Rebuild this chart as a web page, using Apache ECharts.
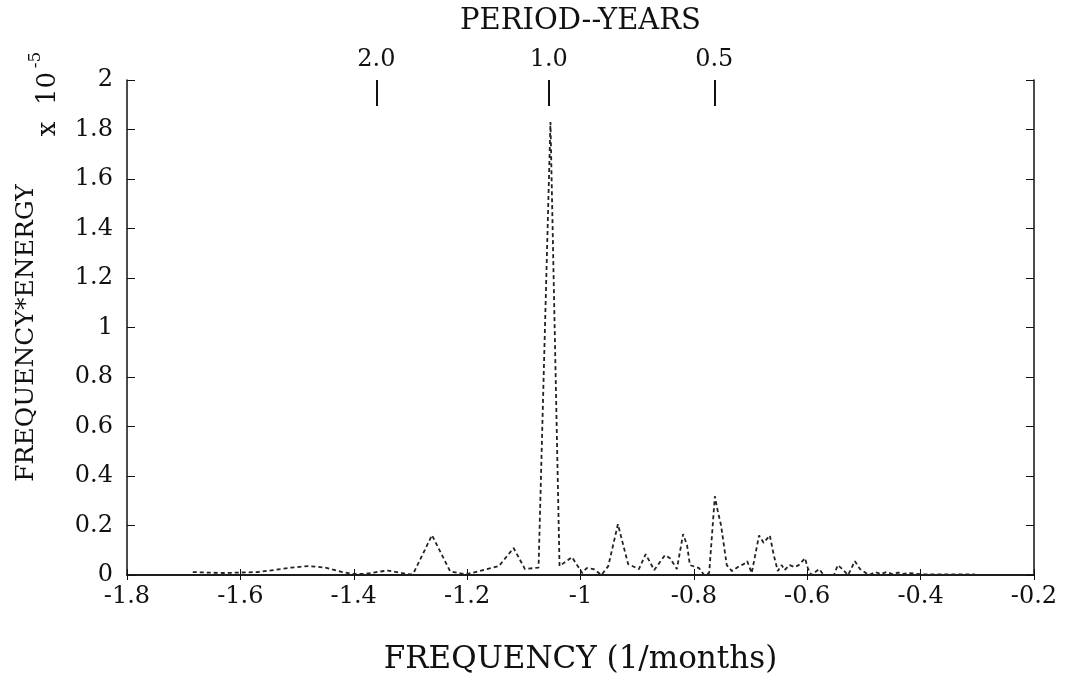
<!DOCTYPE html>
<html>
<head>
<meta charset="utf-8">
<title>Frequency * Energy spectrum</title>
<script src="https://cdn.jsdelivr.net/npm/echarts@6/dist/echarts.min.js"></script>
<style>
  html, body { margin: 0; padding: 0; background: #fff; }
  #chart { width: 1073px; height: 680px; }
</style>
</head>
<body>
<div id="chart"></div>
<script>
// log10 frequency (1/months) and frequency*energy (x 1e-5)
var freq = [
  -1.684, -1.66, -1.63, -1.60, -1.57, -1.54, -1.51, -1.48, -1.45, -1.42,
  -1.40, -1.38, -1.36, -1.34, -1.32, -1.30, -1.294, -1.262, -1.230, -1.209,
  -1.198, -1.180, -1.144, -1.118, -1.098, -1.074, -1.053, -1.037, -1.015, -0.997,
  -0.989, -0.977, -0.963, -0.951, -0.934, -0.916, -0.897, -0.885, -0.870, -0.851,
  -0.842, -0.830, -0.819, -0.812, -0.807, -0.791, -0.782, -0.773, -0.763, -0.758,
  -0.752, -0.742, -0.733, -0.720, -0.712, -0.706, -0.698, -0.685, -0.677, -0.666,
  -0.659, -0.652, -0.645, -0.640, -0.631, -0.622, -0.615, -0.604, -0.599, -0.593,
  -0.579, -0.571, -0.553, -0.546, -0.540, -0.528, -0.516, -0.507, -0.491, -0.48,
  -0.47, -0.46, -0.45, -0.44, -0.43, -0.42, -0.40, -0.38, -0.34, -0.304
];
var energy = [
  0.012, 0.010, 0.008, 0.010, 0.012, 0.020, 0.030, 0.036, 0.030, 0.012,
  0.004, 0.004, 0.012, 0.018, 0.010, 0.002, 0.010, 0.161, 0.015, 0.005,
  0.005, 0.015, 0.036, 0.109, 0.024, 0.030, 1.83, 0.036, 0.072, 0.008,
  0.028, 0.024, 0.0, 0.036, 0.205, 0.044, 0.024, 0.084, 0.020, 0.080,
  0.068, 0.024, 0.165, 0.120, 0.040, 0.028, 0.0, 0.008, 0.318, 0.26,
  0.20, 0.04, 0.016, 0.036, 0.044, 0.056, 0.008, 0.16, 0.13, 0.16,
  0.08, 0.016, 0.04, 0.02, 0.04, 0.032, 0.04, 0.068, 0.028, 0.0,
  0.024, 0.0, 0.0, 0.04, 0.028, 0.0, 0.056, 0.024, 0.0, 0.012,
  0.004, 0.012, 0.004, 0.010, 0.004, 0.008, 0.003, 0.002, 0.002, 0.002
];
// top axis: period in years, placed at log10 frequency
var periodTicks = [-1.36, -1.056, -0.764];
var periodLabels = ['2.0', '1.0', '0.5'];

var FONT = '"DejaVu Serif", "Liberation Serif", serif';
var INK = '#111';

var points = freq.map(function (f, i) { return [f, energy[i]]; });

function trimNum(v) { return String(+v.toFixed(1)); }

var chart = echarts.init(document.getElementById('chart'));
chart.setOption({
  animation: false,
  backgroundColor: '#fff',
  grid: { left: 127, right: 39, top: 80, bottom: 103 },
  xAxis: [
    {
      type: 'value', position: 'bottom', min: -1.8, max: -0.2, interval: 0.2,
      name: 'FREQUENCY (1/months)', nameLocation: 'middle', nameGap: 69,
      nameTextStyle: { fontFamily: FONT, fontSize: 31, color: INK },
      axisLine: { lineStyle: { color: INK, width: 1.5 } },
      axisTick: { inside: true, length: 6, lineStyle: { color: INK } },
      axisLabel: { fontFamily: FONT, fontSize: 24, color: INK, margin: 10, formatter: trimNum },
      splitLine: { show: false }
    },
    {
      type: 'value', position: 'top', min: -1.8, max: -0.2, interval: 0.2,
      axisLine: { lineStyle: { color: INK, width: 1.5 } },
      axisTick: { inside: true, length: 5, lineStyle: { color: INK } },
      axisLabel: { show: false },
      splitLine: { show: false }
    },
    {
      type: 'value', position: 'top', min: -1.8, max: -0.2,
      name: 'PERIOD--YEARS', nameLocation: 'middle', nameGap: 44,
      nameTextStyle: { fontFamily: FONT, fontSize: 29, color: INK },
      axisLine: { show: false },
      axisTick: { inside: true, length: 26, customValues: periodTicks, lineStyle: { color: INK, width: 2 } },
      axisLabel: {
        fontFamily: FONT, fontSize: 24, color: INK, margin: 8, customValues: periodTicks,
        formatter: function (v) {
          var i = periodTicks.indexOf(v);
          return i >= 0 ? periodLabels[i] : '';
        }
      },
      splitLine: { show: false }
    }
  ],
  yAxis: [
    {
      type: 'value', position: 'left', min: 0, max: 2, interval: 0.2,
      axisLine: { show: true, lineStyle: { color: INK, width: 1.5 } },
      axisTick: { show: true, inside: true, length: 8, lineStyle: { color: INK } },
      axisLabel: { fontFamily: FONT, fontSize: 24, color: INK, margin: 14, formatter: trimNum },
      splitLine: { show: false }
    },
    {
      type: 'value', position: 'right', min: 0, max: 2, interval: 0.2,
      axisLine: { show: true, lineStyle: { color: INK, width: 1.5 } },
      axisTick: { show: true, inside: true, length: 8, lineStyle: { color: INK } },
      axisLabel: { show: false },
      splitLine: { show: false }
    }
  ],
  graphic: [
    {
      type: 'text', x: 26, y: 333, rotation: Math.PI / 2,
      style: { text: 'FREQUENCY*ENERGY', font: '25px ' + FONT, fill: INK, align: 'center', verticalAlign: 'middle' }
    },
    {
      type: 'text', x: 48, y: 104, rotation: Math.PI / 2,
      style: { text: 'x  10', font: '26px ' + FONT, fill: INK, align: 'center', verticalAlign: 'middle' }
    },
    {
      type: 'text', x: 36, y: 60, rotation: Math.PI / 2,
      style: { text: '-5', font: '17px ' + FONT, fill: INK, align: 'center', verticalAlign: 'middle' }
    }
  ],
  series: [
    {
      type: 'line', xAxisIndex: 0, yAxisIndex: 0,
      data: points, showSymbol: false, symbol: 'none',
      lineStyle: { color: '#222', width: 1.8, type: [4, 3] }
    }
  ]
});
</script>
</body>
</html>
